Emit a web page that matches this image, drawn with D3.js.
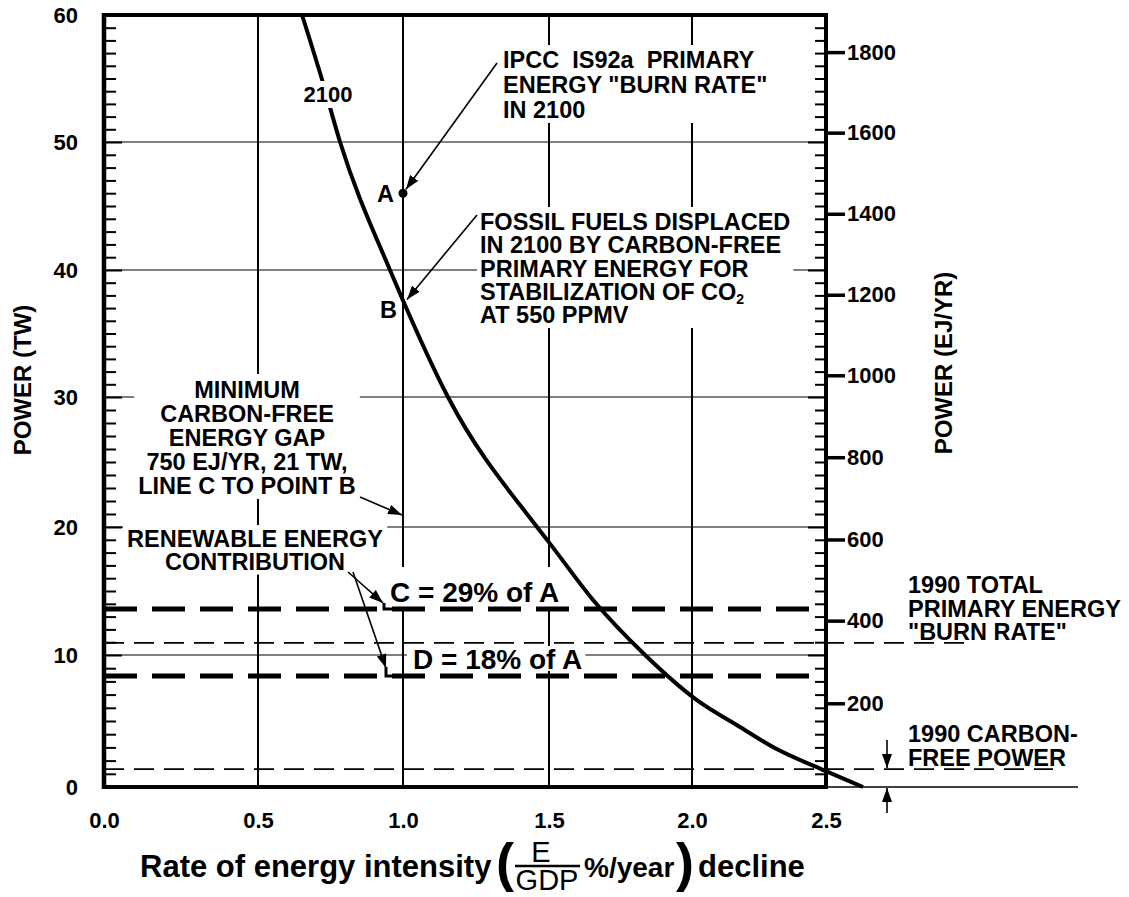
<!DOCTYPE html>
<html><head><meta charset="utf-8">
<script src="https://cdn.jsdelivr.net/npm/d3@7"></script>
<style>
body{margin:0;background:#fff;}
svg{display:block;}
text{font-family:"Liberation Sans",Arial,Helvetica,sans-serif;}
</style></head><body>
<svg id="c" width="1129" height="897"></svg>
<script>
// ---------- data ----------
const xTicks = [0.0, 0.5, 1.0, 1.5, 2.0, 2.5];
const yTicksTW = [0, 10, 20, 30, 40, 50, 60];
const yTicksEJ = [200, 400, 600, 800, 1000, 1200, 1400, 1600, 1800];
const curveX  = [0.652, 0.721, 0.783, 0.955, 1.0, 1.154, 1.459, 1.5, 1.654, 1.836, 2.017, 2.179, 2.302, 2.5, 2.638];
const curveTW = [60, 54.9, 50, 40, 37.6, 30, 20, 18.8, 14.3, 10, 6.6, 4.55, 3.03, 1.2, 0];
const pointA = [1.0, 46.0];
const pointB = [1.0, 37.6];
const lineC = 13.6;          // C = 29% of A
const lineD = 8.4;           // D = 18% of A
const total1990 = 10.95;     // 1990 total primary energy
const carbonFree1990 = 1.36; // 1990 carbon-free power
const EJ_PER_TW = 31.536;

// ---------- layout ----------
const xPix = [104, 258, 403, 549, 692, 826];
const yPix = [787, 655, 527, 397, 270, 142, 15];
const x = d3.scaleLinear().domain(xTicks).range(xPix);
const y = d3.scaleLinear().domain(yTicksTW).range(yPix);
const yEJ = d3.scaleLinear().domain(yTicksTW.map(v => v * EJ_PER_TW)).range(yPix);
const X0 = x(0), X1 = x(2.5), Y0 = y(0), Y1 = y(60);

const svg = d3.select("#c");
const defs = svg.append("defs");
defs.append("marker").attr("id", "ah").attr("markerUnits", "userSpaceOnUse")
  .attr("viewBox", "0 0 14 10").attr("refX", 14).attr("refY", 5)
  .attr("markerWidth", 14).attr("markerHeight", 10).attr("orient", "auto")
  .append("path").attr("d", "M0,0 L14,5 L0,10 Z").attr("fill", "#000");

const gGrid = svg.append("g"), gCurve = svg.append("g"), gBox = svg.append("g"),
      gDash = svg.append("g"), gFrame = svg.append("g"), gAxis = svg.append("g"),
      gText = svg.append("g"), gArrow = svg.append("g");

// grid
gGrid.selectAll("line.v").data(xTicks.slice(1, -1)).join("line").attr("class", "v")
  .attr("x1", d => x(d)).attr("x2", d => x(d)).attr("y1", Y1).attr("y2", Y0)
  .attr("stroke", "#000").attr("stroke-width", 2);
gGrid.selectAll("line.h").data(yTicksTW.slice(1, -1)).join("line").attr("class", "h")
  .attr("x1", X0).attr("x2", X1).attr("y1", d => y(d)).attr("y2", d => y(d))
  .attr("stroke", "#000").attr("stroke-width", 1.2);

// curve
const pts = curveX.map((v, i) => [v, curveTW[i]]);
gCurve.append("path").datum(pts)
  .attr("d", d3.line().x(d => x(d[0])).y(d => y(d[1])).curve(d3.curveMonotoneX))
  .attr("fill", "none").attr("stroke", "#000").attr("stroke-width", 4);

// dashed reference lines
function hline(v, x2, w, dash) {
  gDash.append("line").attr("x1", X0).attr("x2", x2).attr("y1", y(v)).attr("y2", y(v))
    .attr("stroke", "#000").attr("stroke-width", w).attr("stroke-dasharray", dash);
}
hline(lineC, X1, 5, "33,15");
hline(lineD, X1, 5, "33,15");
hline(total1990, 973, 1.8, "20,10");
hline(carbonFree1990, 1053, 1.8, "20,10");

// leader corners for C and D
gDash.append("path").attr("d", `M384,${y(lineC) - 6} L384,${y(lineC)} L${x(1.0)},${y(lineC)}`)
  .attr("fill", "none").attr("stroke", "#000").attr("stroke-width", 3);
gDash.append("path").attr("d", `M386,${y(lineD) - 9} L386,${y(lineD)} L${x(1.0)},${y(lineD)}`)
  .attr("fill", "none").attr("stroke", "#000").attr("stroke-width", 3);

// frame
function seg(x1, y1, x2, y2, w) {
  gFrame.append("line").attr("x1", x1).attr("y1", y1).attr("x2", x2).attr("y2", y2)
    .attr("stroke", "#000").attr("stroke-width", w);
}
seg(X0 - 2, Y1, X1 + 2, Y1, 4);
seg(X0, Y1 - 2, X0, Y0 + 2, 4.5);
seg(X1, Y1 - 2, X1, Y0 + 2, 4);
seg(X0 - 2, Y0, X1, Y0, 4);
seg(X1, Y0, 1078, Y0, 1.5);

// axes
const bold = sel => sel.attr("font-family", "'Liberation Sans',Arial,sans-serif").attr("font-weight", "bold");
const minorTW = d3.range(1, 60);
const la = gAxis.append("g").attr("transform", `translate(${X0},0)`)
  .call(d3.axisRight(y).tickValues(minorTW).tickSize(12).tickFormat(""));
la.select(".domain").remove();
la.selectAll(".tick line").attr("x2", d => d % 10 === 0 ? 18 : 12).attr("stroke-width", 2);
const ll = gAxis.append("g").attr("transform", `translate(${X0},0)`)
  .call(d3.axisLeft(y).tickValues(yTicksTW).tickSize(0).tickPadding(26));
ll.select(".domain").remove();
ll.call(bold).attr("font-size", 22);
const ra = gAxis.append("g").attr("transform", `translate(${X1},0)`)
  .call(d3.axisLeft(y).tickValues(minorTW).tickSize(11).tickFormat(""));
ra.select(".domain").remove();
ra.selectAll(".tick line").attr("x2", d => d % 10 === 0 ? -18 : -11).attr("stroke-width", 2);
const re = gAxis.append("g").attr("transform", `translate(${X1},0)`)
  .call(d3.axisRight(yEJ).tickValues(yTicksEJ).tickFormat(d3.format("d")).tickSize(19).tickPadding(2));
re.select(".domain").remove();
re.selectAll(".tick line").attr("stroke-width", 3.5);
re.call(bold).attr("font-size", 22);
const ba = gAxis.append("g").attr("transform", `translate(0,${Y0})`)
  .call(d3.axisBottom(x).tickValues(xTicks).tickFormat(d3.format(".1f")).tickSize(0).tickPadding(25));
ba.select(".domain").remove();
ba.call(bold).attr("font-size", 22);

// text helper with optional white background
function block(lines, px, py, lh, anchor, size, pad) {
  const t = gText.append("text").attr("x", px).attr("y", py).attr("text-anchor", anchor)
    .attr("font-size", size).attr("font-weight", "bold").style("white-space", "pre");
  lines.forEach((ln, i) => {
    const ts = t.append("tspan").attr("x", px).attr("y", py + i * lh);
    if (Array.isArray(ln)) {
      ts.text(ln[0]);
      ts.append("tspan").attr("font-size", size * 0.6).attr("dy", 4).text(ln[1]);
    } else ts.text(ln);
  });
  if (pad) {
    const b = t.node().getBBox();
    gBox.append("rect").attr("x", b.x - pad[3]).attr("y", b.y - pad[0])
      .attr("width", b.width + pad[1] + pad[3]).attr("height", b.height + pad[0] + pad[2])
      .attr("fill", "#fff");
  }
  return t;
}

block(["2100"], 328, 102, 0, "middle", 22, [1, 2, 1, 2]);
block(["IPCC  IS92a  PRIMARY", "ENERGY \"BURN RATE\"", "IN 2100"], 503, 68, 25, "start", 23.5, [2, 4, 0, 4]);
block(["FOSSIL FUELS DISPLACED", "IN 2100 BY CARBON-FREE", "PRIMARY ENERGY FOR", ["STABILIZATION OF CO", "2"], "AT 550 PPMV"],
      480, 230, 23.25, "start", 23.5, [2, 3, 0, 3]);
block(["MINIMUM", "CARBON-FREE", "ENERGY GAP", "750 EJ/YR, 21 TW,", "LINE C TO POINT B"], 247, 398, 24, "middle", 23.5, [3, 4, 0, 4]);
block(["RENEWABLE ENERGY", "CONTRIBUTION"], 255, 547, 22.5, "middle", 23.5, [1, 4, 0, 4]);
block(["C = 29% of A"], 390, 602, 0, "start", 28, [10, 3, 0, 3]);
block(["D = 18% of A"], 413, 669, 0, "start", 28, [-2, 3, -4, 6]);
block(["1990 TOTAL", "PRIMARY ENERGY", "\"BURN RATE\""], 908, 593, 23.5, "start", 23.5, null);
block(["1990 CARBON-", "FREE POWER"], 908, 742, 23.5, "start", 23.5, null);
block(["A"], 394, 202, 0, "end", 23.5, null);
block(["B"], 397, 318, 0, "end", 23.5, null);

// point A
gText.append("circle").attr("cx", x(pointA[0])).attr("cy", y(pointA[1])).attr("r", 4.5).attr("fill", "#000");

// arrows
function arrow(x1, y1, x2, y2) {
  gArrow.append("line").attr("x1", x1).attr("y1", y1).attr("x2", x2).attr("y2", y2)
    .attr("stroke", "#000").attr("stroke-width", 1.6).attr("marker-end", "url(#ah)");
}
arrow(497, 63, x(pointA[0]) + 3, y(pointA[1]) - 4);
arrow(477, 215, x(pointB[0]) + 4, y(pointB[1]) - 1);
arrow(360, 497, x(1.0) - 1, 515);
arrow(348, 572, 383, y(lineC) - 6);
arrow(353, 572, 386, y(lineD) - 8);
arrow(887, 740, 887, y(carbonFree1990) - 1);
arrow(887, 813, 887, Y0 + 1);

// axis titles
gText.append("text").attr("transform", "translate(31,380) rotate(-90)").attr("text-anchor", "middle")
  .attr("font-size", 24).attr("font-weight", "bold").text("POWER (TW)");
gText.append("text").attr("transform", "translate(952,363) rotate(-90)").attr("text-anchor", "middle")
  .attr("font-size", 24).attr("font-weight", "bold").text("POWER (EJ/YR)");

// x-axis title with fraction
const tt = (s, px, py, size, w, anchor) => gText.append("text").attr("x", px).attr("y", py)
  .attr("font-size", size).attr("font-weight", w).attr("text-anchor", anchor || "start").text(s);
tt("Rate of energy intensity", 140, 877, 31, "bold");
tt("(", 496, 881, 54, "bold");
tt("E", 541, 862, 29, "normal", "middle");
gText.append("line").attr("x1", 515).attr("x2", 580).attr("y1", 866).attr("y2", 866)
  .attr("stroke", "#000").attr("stroke-width", 2.5);
tt("GDP", 547, 890, 29, "normal", "middle");
tt("%/year", 584, 877, 28, "bold");
tt(")", 676, 881, 54, "bold");
tt("decline", 698, 877, 31, "bold");
</script>
</body></html>
